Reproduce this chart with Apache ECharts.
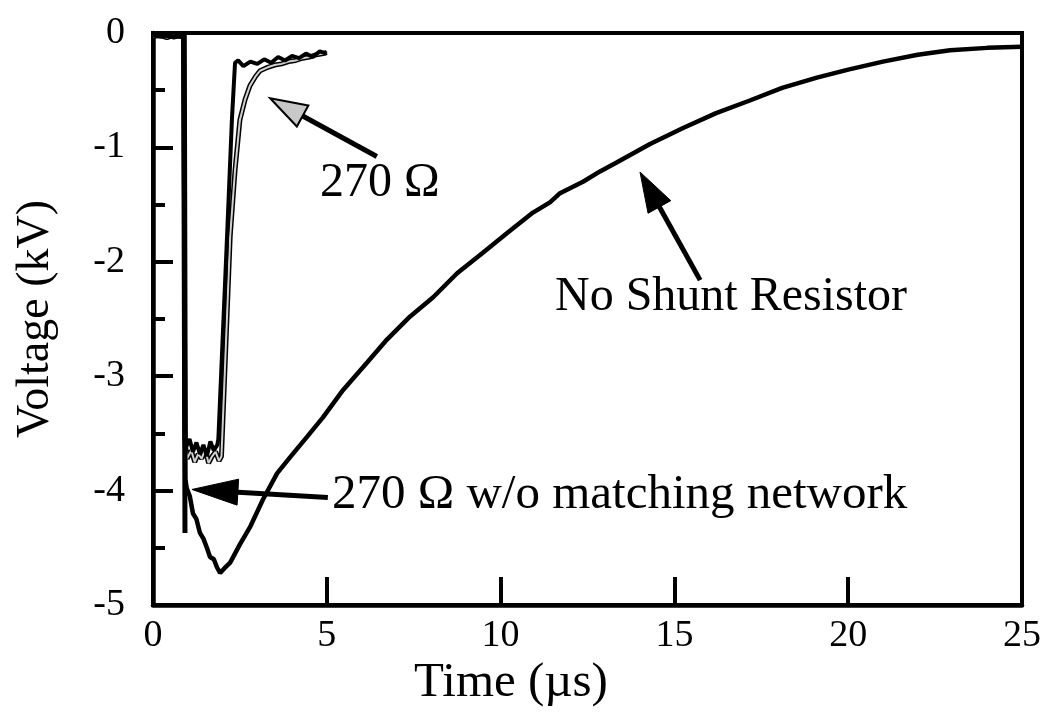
<!DOCTYPE html>
<html>
<head>
<meta charset="utf-8">
<script src="https://cdn.jsdelivr.net/npm/echarts@6/dist/echarts.min.js"></script>
<style>
html,body{margin:0;padding:0;background:#fff;}
#c{width:1055px;height:717px;}
</style>
</head>
<body>
<div id="c"></div>
<script>
// ---- data (time in µs, voltage in kV) ----
const xTicks = [0, 5, 10, 15, 20, 25];
const yTicks = [0, -1, -2, -3, -4, -5];

const noShuntT = [0, 0.3, 0.6, 0.88, 0.93, 0.97, 1.06, 1.15, 1.25, 1.35, 1.45, 1.55, 1.64, 1.75, 1.84, 1.93, 2.05, 2.22, 2.5, 2.79, 3.16, 3.57, 3.94, 4.43, 4.89, 5.47, 6.16, 6.73, 7.39, 8.06, 8.75, 9.49, 10.18, 10.93, 11.42, 11.71, 12.37, 12.86, 13.35, 14.3, 15.25, 16.2, 17.17, 18.1, 19.1, 20.0, 21.0, 22.0, 22.93, 24.0, 25.0];
const noShuntV = [0, -0.02, -0.03, -0.02, -3.9, -3.98, -4.05, -4.2, -4.25, -4.37, -4.42, -4.5, -4.58, -4.6, -4.67, -4.72, -4.68, -4.63, -4.47, -4.32, -4.08, -3.85, -3.71, -3.53, -3.36, -3.12, -2.88, -2.68, -2.48, -2.31, -2.1, -1.92, -1.75, -1.57, -1.48, -1.4, -1.3, -1.21, -1.13, -0.97, -0.83, -0.7, -0.59, -0.48, -0.39, -0.32, -0.25, -0.19, -0.15, -0.13, -0.12];

const r270T = [0, 0.2, 0.4, 0.6, 0.8, 0.88, 0.91, 0.95, 1.05, 1.15, 1.25, 1.35, 1.45, 1.55, 1.65, 1.75, 1.85, 1.88, 2.0, 2.13, 2.27, 2.36, 2.45, 2.6, 2.8, 3.0, 3.2, 3.4, 3.6, 3.8, 4.0, 4.2, 4.4, 4.6, 4.8, 5.0];
const r270V = [-0.02, -0.03, -0.02, -0.04, -0.02, -0.03, -3.55, -3.62, -3.55, -3.66, -3.58, -3.68, -3.6, -3.7, -3.57, -3.65, -3.6, -3.55, -2.7, -1.78, -0.76, -0.26, -0.24, -0.29, -0.25, -0.27, -0.23, -0.26, -0.21, -0.24, -0.2, -0.22, -0.18, -0.21, -0.16, -0.18];

const r270bT = [0, 0.2, 0.4, 0.6, 0.8, 0.9, 0.93, 0.98, 1.1, 1.2, 1.3, 1.4, 1.5, 1.6, 1.7, 1.8, 1.9, 1.97, 2.1, 2.22, 2.36, 2.5, 2.65, 2.79, 2.95, 3.08, 3.3, 3.5, 3.7, 3.9, 4.1, 4.3, 4.5, 4.7, 4.9, 5.0];
const r270bV = [-0.03, -0.02, -0.04, -0.02, -0.03, -0.02, -3.6, -3.72, -3.65, -3.75, -3.68, -3.72, -3.64, -3.76, -3.7, -3.66, -3.74, -3.7, -2.7, -1.78, -1.2, -0.76, -0.58, -0.46, -0.38, -0.33, -0.3, -0.28, -0.27, -0.25, -0.24, -0.22, -0.21, -0.19, -0.18, -0.17];

const noMatchT = [0, 0.5, 0.88, 0.92];
const noMatchV = [-0.02, -0.03, -0.02, -4.37];

// annotation arrows: [tailT, tailV, tipT, tipV]
const arrow270 = [6.44, -1.08, 3.37, -0.57];
const arrowNoShunt = [15.74, -2.16, 14.01, -1.215];
const arrowNoMatch = [5.03, -4.06, 1.12, -3.99];

const labelNoShunt = 'No Shunt Resistor';
const label270 = '270 Ω';
const labelNoMatch = '270 Ω w/o matching network';
const xTitle = 'Time (µs)';
const yTitle = 'Voltage (kV)';

// ---- chart ----
const zip = (a, b) => a.map((v, i) => [v, b[i]]);
const FONT = '"Liberation Serif", "Times New Roman", serif';
const chart = echarts.init(document.getElementById('c'), null, {renderer: 'canvas'});

const option = {
  animation: false,
  backgroundColor: '#fff',
  grid: {left: 153, right: 33, top: 33, bottom: 112, outerBoundsMode: 'none', containLabel: false,
         show: true, borderColor: '#000', borderWidth: 4, backgroundColor: 'transparent'},
  xAxis: {
    type: 'value', min: xTicks[0], max: xTicks[xTicks.length - 1], interval: 5,
    axisLine: {onZero: false, lineStyle: {color: '#000', width: 4.5}},
    axisTick: {inside: true, length: 28, lineStyle: {color: '#000', width: 4}},
    axisLabel: {fontFamily: FONT, fontSize: 38, color: '#000', margin: 12},
    splitLine: {show: false}
  },
  yAxis: {
    type: 'value', min: yTicks[yTicks.length - 1], max: yTicks[0], interval: 1,
    name: yTitle, nameLocation: 'middle', nameGap: 94,
    nameTextStyle: {fontFamily: FONT, fontSize: 46, color: '#000'},
    axisLine: {onZero: false, lineStyle: {color: '#000', width: 4.5}},
    axisTick: {inside: true, length: 20, lineStyle: {color: '#000', width: 4}},
    minorTick: {show: true, splitNumber: 2, length: 12, lineStyle: {color: '#000', width: 4}},
    axisLabel: {fontFamily: FONT, fontSize: 38, color: '#000', margin: 28},
    splitLine: {show: false}
  },
  series: [
    {type: 'line', name: '270 Ω w/o matching network', data: zip(noMatchT, noMatchV), showSymbol: false,
     lineStyle: {color: '#000', width: 5}, z: 2},
    {type: 'line', name: '270 Ω (a)', data: zip(r270bT, r270bV), showSymbol: false,
     lineStyle: {color: '#000', width: 5}, z: 3},
    {type: 'line', name: '270 Ω (a) core', data: zip(r270bT, r270bV), showSymbol: false,
     lineStyle: {color: '#d0d0d0', width: 2}, z: 4},
    {type: 'line', name: '270 Ω (b)', data: zip(r270T, r270V), showSymbol: false,
     lineStyle: {color: '#000', width: 4}, z: 5},
    {type: 'line', name: 'No Shunt Resistor', data: zip(noShuntT, noShuntV), showSymbol: false,
     lineStyle: {color: '#000', width: 4.5}, z: 6}
  ]
};
chart.setOption(option);

function arrow(a, headLen, halfW, fill) {
  const p0 = chart.convertToPixel({gridIndex: 0}, [a[0], a[1]]);
  const p1 = chart.convertToPixel({gridIndex: 0}, [a[2], a[3]]);
  const dx = p1[0] - p0[0], dy = p1[1] - p0[1];
  const L = Math.sqrt(dx * dx + dy * dy);
  const ux = dx / L, uy = dy / L;
  const bx = p1[0] - ux * headLen, by = p1[1] - uy * headLen;
  const nx = -uy, ny = ux;
  return [
    {type: 'line', shape: {x1: p0[0], y1: p0[1], x2: bx + ux * 4, y2: by + uy * 4},
     style: {stroke: '#000', lineWidth: 5}, z: 100},
    {type: 'polygon', shape: {points: [[p1[0], p1[1]], [bx + nx * halfW, by + ny * halfW], [bx - nx * halfW, by - ny * halfW]]},
     style: {fill: fill, stroke: '#000', lineWidth: fill === '#000' ? 1 : 2}, z: 101}
  ];
}
function txt(s, x, y, size, align) {
  return {type: 'text', x: x, y: y, z: 102,
    style: {text: s, font: size + 'px ' + FONT, fill: '#000', textAlign: align || 'left', textVerticalAlign: 'middle'}};
}
chart.setOption({
  graphic: [].concat(
    arrow(arrow270, 37, 12, '#c8c8c8'),
    arrow(arrowNoShunt, 40, 13, '#000'),
    arrow(arrowNoMatch, 46, 13, '#000'),
    [txt(label270, 320, 183, 48), txt(labelNoShunt, 555, 297, 48), txt(labelNoMatch, 332, 495, 49),
     txt(xTitle, 511, 683, 49, 'center')]
  )
});
</script>
</body>
</html>
